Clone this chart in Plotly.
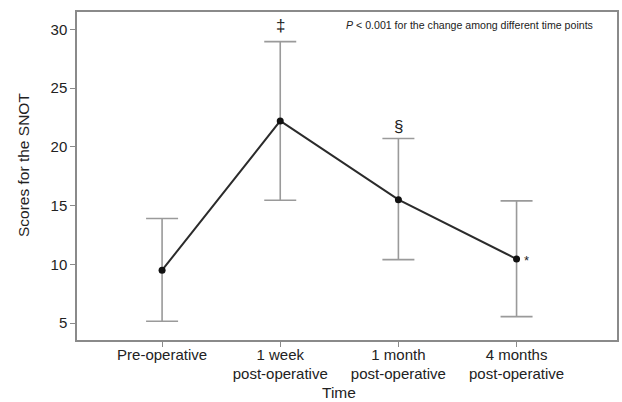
import plotly.graph_objects as go

categories = ["Pre-operative", "1 week<br>post-operative", "1 month<br>post-operative", "4 months<br>post-operative"]
means = [9.5, 22.2, 15.5, 10.45]
upper = [13.9, 28.95, 20.7, 15.4]
lower = [5.15, 15.45, 10.4, 5.55]
marks = ["", "‡", "§", "*"]
y_ticks = [5, 10, 15, 20, 25, 30]

xs = list(range(len(categories)))
err_plus = [u - m for u, m in zip(upper, means)]
err_minus = [m - l for m, l in zip(means, lower)]

FONT = "Liberation Sans, Arial, sans-serif"

fig = go.Figure()
fig.add_trace(go.Scatter(
    x=xs, y=means, mode="markers",
    marker=dict(size=1, color="rgba(0,0,0,0)"),
    error_y=dict(type="data", symmetric=False, array=err_plus, arrayminus=err_minus,
                 color="#9a9a9a", thickness=1.6, width=16),
    showlegend=False, hoverinfo="skip",
))
fig.add_trace(go.Scatter(
    x=xs, y=means, mode="lines+markers",
    line=dict(color="#2b2b2b", width=2),
    marker=dict(size=7, color="#111111"),
    showlegend=False,
))

shifts = {"‡": 16, "§": 12}
annotations = []
for i, (mk, u, m) in enumerate(zip(marks, upper, means)):
    if not mk:
        continue
    if mk == "*":
        annotations.append(dict(x=i, y=m, xref="x", yref="y", text=mk, showarrow=False,
                                xshift=10, yshift=-1, font=dict(size=13, color="#222", family=FONT)))
    else:
        annotations.append(dict(x=i, y=u, xref="x", yref="y", text=mk, showarrow=False,
                                yshift=shifts[mk], font=dict(size=17, color="#222", family=FONT)))
annotations.append(dict(x=(595 - 77) / 540, y=(340 - 25) / 328, xref="paper", yref="paper",
                        xanchor="right", yanchor="middle",
                        text="<i>P</i> < 0.001 for the change among different time points",
                        showarrow=False, font=dict(size=10.6, color="#222", family=FONT)))
annotations.append(dict(x=(339 - 77) / 540, y=(340 - 392) / 328, xref="paper", yref="paper",
                        text="Time", showarrow=False, xanchor="center", yanchor="middle",
                        font=dict(size=15.5, color="#222", family=FONT)))
annotations.append(dict(x=(23 - 77) / 540, y=(340 - 165) / 328, xref="paper", yref="paper",
                        text="Scores for the SNOT", showarrow=False, textangle=-90,
                        xanchor="center", yanchor="middle",
                        font=dict(size=15.5, color="#222", family=FONT)))

fig.update_layout(
    width=622, height=402,
    margin=dict(l=77, r=5, t=12, b=62, autoexpand=False),
    paper_bgcolor="white", plot_bgcolor="white",
    font=dict(family=FONT, color="#222", size=13),
    annotations=annotations,
    xaxis=dict(
        range=[-0.72, 3.85], tickvals=xs, ticktext=categories, automargin=False,
        showgrid=False, zeroline=False, showline=True, mirror=True,
        linecolor="#8a8a8a", linewidth=1.5,
        ticks="outside", ticklen=5, tickcolor="#8a8a8a", tickwidth=1.2,
        ticklabelstandoff=-5,
        tickfont=dict(size=15, color="#222"),
    ),
    yaxis=dict(
        range=[3.56, 31.47], tickvals=y_ticks, automargin=False,
        showgrid=False, zeroline=False, showline=True, mirror=True,
        linecolor="#8a8a8a", linewidth=1.5,
        ticks="outside", ticklen=5, tickcolor="#8a8a8a", tickwidth=1.2,
        tickfont=dict(size=15, color="#222"),
    ),
)

fig.write_html("out.html", config={"displayModeBar": False},
               post_script="document.body.style.margin='0';document.body.style.overflow='hidden';")
